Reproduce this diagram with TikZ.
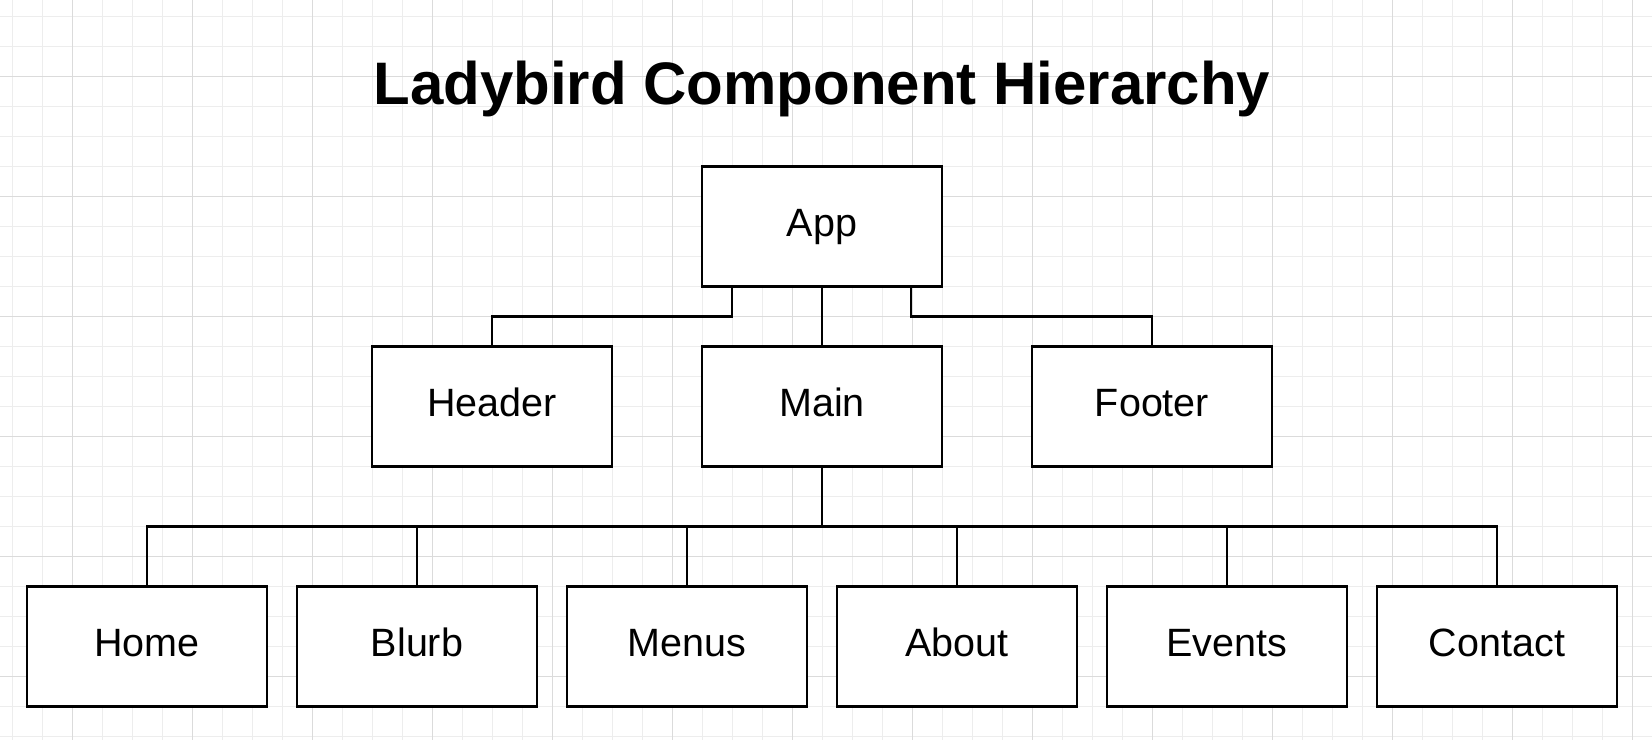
\documentclass[tikz,border=0pt]{standalone}
\usepackage{fontspec}
\setmainfont{Liberation Sans}
\begin{document}
\begin{tikzpicture}[x=1pt,y=-1pt,
  minorgrid/.style={draw=black!7,line width=1pt},
  majorgrid/.style={draw=black!14,line width=1pt},
  box/.style={draw=black,line width=2.6pt,fill=white,minimum width=240pt,minimum height=120pt,
    inner sep=0pt,outer sep=0pt,font=\fontsize{39.5}{45}\selectfont,text height=29pt,text depth=10pt},
  link/.style={draw=black,line width=2.4pt}]
\useasboundingbox (0,0) rectangle (1652,740);
\fill[white] (0,0) rectangle (1652,740);
\foreach \x in {12,42,...,1650} \draw[minorgrid] (\x,0) -- (\x,740);
\foreach \y in {16,46,...,740} \draw[minorgrid] (0,\y) -- (1652,\y);
\foreach \x in {72,192,...,1650} \draw[majorgrid] (\x,0) -- (\x,740);
\foreach \y in {76,196,...,740} \draw[majorgrid] (0,\y) -- (1652,\y);

\node[font=\fontsize{60}{72}\selectfont\bfseries,anchor=base] (title) at (822,104) {Ladybird Component Hierarchy};

\node[box] (App) at (822,226.5) {App};
\node[box] (Header) at (492,406.5) {Header};
\node[box] (Main) at (822,406.5) {Main};
\node[box] (Footer) at (1152,406.5) {Footer};
\node[box] (Home) at (147,646.5) {Home};
\node[box] (Blurb) at (417,646.5) {Blurb};
\node[box] (Menus) at (687,646.5) {Menus};
\node[box] (About) at (957,646.5) {About};
\node[box] (Events) at (1227,646.5) {Events};
\node[box] (Contact) at (1497,646.5) {Contact};

\coordinate (bus) at (822,526.5);
\draw[link] ([xshift=-90pt]App.south) -- ++(0,30) -| (Header.north);
\draw[link] ([xshift=89pt]App.south) -- ++(0,30) -| (Footer.north);
\draw[link] (App.south) -- (Main.north);
\draw[link] (Main.south) -- (bus);
\draw[link] (Home.north) |- (bus) -| (Contact.north);
\foreach \n in {Blurb,Menus,About,Events} \draw[link] (\n.north |- bus) -- (\n.north);
\end{tikzpicture}
\end{document}
